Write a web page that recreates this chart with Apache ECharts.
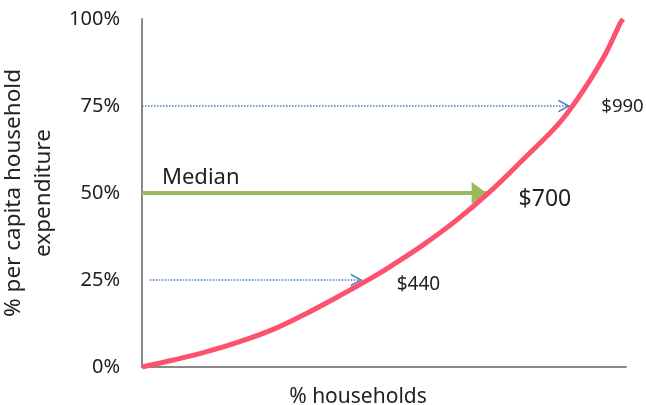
<!DOCTYPE html>
<html>
<head>
<meta charset="utf-8">
<script src="https://cdn.jsdelivr.net/npm/echarts@6/dist/echarts.min.js"></script>
<style>html,body{margin:0;padding:0;background:#fff}#c{width:646px;height:405px}</style>
</head>
<body>
<div id="c"></div>
<script>
// Curve: % households (x) vs cumulative % per capita household expenditure (y)
const curveX = [0, 6.5, 13.4, 20.2, 27.1, 34.0, 40.9, 47.8, 51.2, 58.1, 65.0, 71.9, 78.8, 85.7, 89.1, 92.6, 96.0, 98.8, 99.4];
const curveY = [0, 2.0, 4.4, 7.3, 10.8, 15.4, 20.5, 25.9, 28.8, 35.1, 42.2, 50.4, 59.7, 69.3, 75.3, 82.5, 90.6, 98.8, 100];
const yTicks = [0, 25, 50, 75, 100];
// Arrows: [startX, endX (tip), level]
const arrow75 = [0, 88.5, 75];
const arrowMedian = [0, 71.2, 50];
const arrow25 = [1.6, 45.6, 25];
const valueLabels = ['$990', '$700', '$440'];
const medianText = 'Median';

const font = 'Noto Sans';
const chart = echarts.init(document.getElementById('c'), null, {renderer: 'canvas'});
const chevron = 'path://M0,10 L5,0 L10,10 L8.7,10 L5,2.6 L1.3,10 Z';

function seg(a, head) {
  return [{coord: [a[0], a[2]], symbol: 'none'},
          Object.assign({coord: [a[1], a[2]]}, head)];
}
const blueHead = {symbol: chevron, symbolSize: [13, 12], symbolOffset: [0, 6]};
const greenHead = {symbol: 'triangle', symbolSize: [22, 15], symbolOffset: [0, 7.5]};

chart.setOption({
  animation: false,
  backgroundColor: '#ffffff',
  textStyle: {fontFamily: font},
  grid: {left: 142, right: 20, top: 19, bottom: 38, containLabel: false, outerBoundsMode: 'none'},
  xAxis: {
    type: 'value', min: 0, max: 100,
    axisLine: {show: true, lineStyle: {color: '#898989', width: 2}},
    axisTick: {show: false}, axisLabel: {show: false}, splitLine: {show: false},
    name: '% households', nameLocation: 'middle', nameGap: 20,
    nameTextStyle: {fontFamily: font, fontSize: 21, color: '#222', padding: [0, 52, 0, 0]}
  },
  yAxis: {
    type: 'value', min: 0, max: 100, interval: 25,
    axisLine: {show: true, lineStyle: {color: '#898989', width: 2}},
    axisTick: {show: false}, splitLine: {show: false},
    axisLabel: {margin: 22, fontFamily: font, fontSize: 20, color: '#222',
      formatter: v => yTicks.includes(v) ? v + '%' : ''},
    name: '% per capita household\nexpenditure', nameLocation: 'middle', nameRotate: 90, nameGap: 63,
    nameTextStyle: {fontFamily: font, fontSize: 22.5, color: '#222', lineHeight: 30}
  },
  series: [
    {
      type: 'line', smooth: 0.4, symbol: 'none', z: 5,
      data: curveX.map((x, i) => [x, curveY[i]]),
      lineStyle: {color: '#fe5170', width: 5}
    },
    {
      type: 'line', data: [], symbol: 'none', z: 3,
      itemStyle: {color: '#4a7ebb'},
      markLine: {
        silent: true, animation: false,
        label: {show: false},
        itemStyle: {color: '#4a7ebb'},
        lineStyle: {color: '#4a7ebb', width: 1.5, type: 'dotted'},
        data: [seg(arrow75, blueHead), seg(arrow25, blueHead)]
      }
    },
    {
      type: 'line', data: [], symbol: 'none', z: 3,
      itemStyle: {color: '#9bbb59'},
      markLine: {
        silent: true, animation: false,
        label: {show: false},
        itemStyle: {color: '#9bbb59'},
        lineStyle: {color: '#9bbb59', width: 4, type: 'solid'},
        data: [seg(arrowMedian, greenHead)]
      },
      markPoint: {
        silent: true, symbol: 'circle', symbolSize: 0,
        label: {show: true, position: 'inside', align: 'left', verticalAlign: 'middle', color: '#222', fontFamily: font},
        data: [
          {coord: [arrow75[1], arrow75[2]], label: {formatter: valueLabels[0], fontSize: 18.5, offset: [31, 1]}},
          {coord: [arrowMedian[1], arrowMedian[2]], label: {formatter: valueLabels[1], fontSize: 23, offset: [32, 6]}},
          {coord: [arrow25[1], arrow25[2]], label: {formatter: valueLabels[2], fontSize: 19, offset: [34, 5]}},
          {coord: [arrowMedian[0], arrowMedian[2]], label: {formatter: medianText, fontSize: 22, offset: [20, -15]}}
        ]
      }
    }
  ]
});
</script>
</body>
</html>
